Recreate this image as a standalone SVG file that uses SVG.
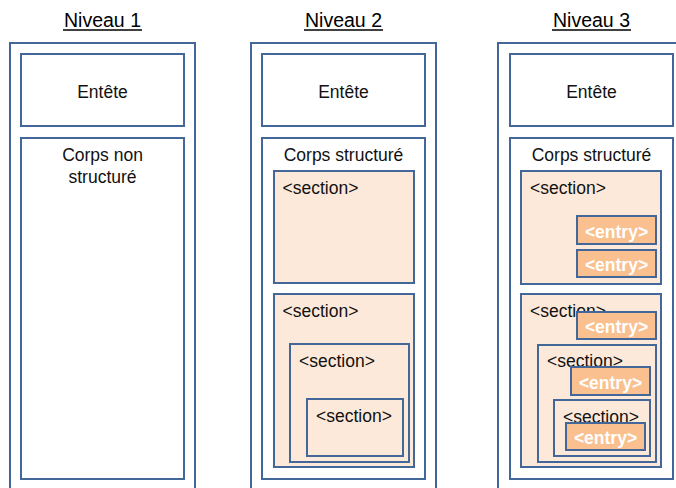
<svg xmlns="http://www.w3.org/2000/svg" width="676" height="488" viewBox="0 0 676 488">
  <style>
    .box { fill: #ffffff; stroke: #44679a; stroke-width: 2; }
    .sec { fill: #fde9da; stroke: #44679a; stroke-width: 2; }
    .ent { fill: #fac08f; stroke: #44679a; stroke-width: 2; }
    .title { font-family: "Liberation Sans", Arial, sans-serif; font-size: 19.5px; fill: #000; text-anchor: middle; }
    .lbl { font-family: "Liberation Sans", Arial, sans-serif; font-size: 17.5px; fill: #111; }
    .mid { text-anchor: middle; }
    .etxt { font-family: "Liberation Sans", Arial, sans-serif; font-size: 17.5px; font-weight: bold; fill: #ffffff; text-anchor: middle; }
    .ul { stroke: #000; stroke-width: 1.3; }
  </style>

  <rect width="676" height="488" fill="#ffffff"/>

  <!-- Column titles -->
  <g id="titles">
    <text class="title" x="102.5" y="27">Niveau 1</text>
    <line class="ul" x1="63" y1="30" x2="142" y2="30"/>
    <text class="title" x="343.5" y="27">Niveau 2</text>
    <line class="ul" x1="304" y1="30" x2="383" y2="30"/>
    <text class="title" x="591.5" y="27">Niveau 3</text>
    <line class="ul" x1="552" y1="30" x2="631" y2="30"/>
  </g>

  <!-- Level 1: unstructured body -->
  <g id="niveau1">
    <rect class="box" x="10" y="43" width="185" height="470"/>
    <g id="n1-entete">
      <rect class="box" x="21" y="54" width="163" height="72"/>
      <text class="lbl mid" x="102.5" y="97.5">Entête</text>
    </g>
    <g id="n1-corps">
      <rect class="box" x="21" y="138" width="163" height="341"/>
      <text class="lbl mid" x="102.5" y="160.5">Corps non</text>
      <text class="lbl mid" x="102.5" y="182.5">structuré</text>
    </g>
  </g>

  <!-- Level 2: structured body with nested sections -->
  <g id="niveau2">
    <rect class="box" x="251" y="43" width="185" height="470"/>
    <g id="n2-entete">
      <rect class="box" x="262" y="54" width="163" height="72"/>
      <text class="lbl mid" x="343.5" y="97.5">Entête</text>
    </g>
    <g id="n2-corps">
      <rect class="box" x="262" y="138" width="163" height="341"/>
      <text class="lbl mid" x="343.5" y="160.5">Corps structuré</text>
    </g>
    <g id="n2-sec1">
      <rect class="sec" x="274" y="171" width="140" height="112"/>
      <text class="lbl" x="282.5" y="194">&lt;section&gt;</text>
    </g>
    <g id="n2-sec2">
      <rect class="sec" x="274" y="294" width="140" height="173"/>
      <text class="lbl" x="282.5" y="317">&lt;section&gt;</text>
    </g>
    <g id="n2-sec2a">
      <rect class="sec" x="290" y="344" width="119" height="118"/>
      <text class="lbl" x="299" y="367">&lt;section&gt;</text>
    </g>
    <g id="n2-sec2b">
      <rect class="sec" x="307" y="399" width="96" height="57"/>
      <text class="lbl" x="316" y="422">&lt;section&gt;</text>
    </g>
  </g>

  <!-- Level 3: sections with entries -->
  <g id="niveau3">
    <rect class="box" x="498" y="43" width="200" height="470"/>
    <g id="n3-entete">
      <rect class="box" x="510" y="54" width="163" height="72"/>
      <text class="lbl mid" x="591.5" y="97.5">Entête</text>
    </g>
    <g id="n3-corps">
      <rect class="box" x="510" y="138" width="163" height="341"/>
      <text class="lbl mid" x="591.5" y="160.5">Corps structuré</text>
    </g>
    <g id="n3-sec1">
      <rect class="sec" x="521" y="171" width="140" height="113"/>
      <text class="lbl" x="530" y="194">&lt;section&gt;</text>
    </g>
    <g id="n3-entry1">
      <rect class="ent" x="577" y="216" width="79" height="28"/>
      <text class="etxt" x="616.5" y="237.5">&lt;entry&gt;</text>
    </g>
    <g id="n3-entry2">
      <rect class="ent" x="577" y="250" width="79" height="27"/>
      <text class="etxt" x="616.5" y="271">&lt;entry&gt;</text>
    </g>
    <g id="n3-sec2">
      <rect class="sec" x="521" y="294" width="140" height="173"/>
      <text class="lbl" x="530" y="317">&lt;section&gt;</text>
    </g>
    <g id="n3-entry3">
      <rect class="ent" x="577" y="312" width="79" height="27"/>
      <text class="etxt" x="616.5" y="333">&lt;entry&gt;</text>
    </g>
    <g id="n3-sec2a">
      <rect class="sec" x="538" y="345" width="118" height="117"/>
      <text class="lbl" x="547" y="367">&lt;section&gt;</text>
    </g>
    <g id="n3-entry4">
      <rect class="ent" x="571" y="367" width="79" height="28"/>
      <text class="etxt" x="610.5" y="388.5">&lt;entry&gt;</text>
    </g>
    <g id="n3-sec2b">
      <rect class="sec" x="554" y="400" width="96" height="56"/>
      <text class="lbl" x="563" y="422.5">&lt;section&gt;</text>
    </g>
    <g id="n3-entry5">
      <rect class="ent" x="566" y="423" width="79" height="27"/>
      <text class="etxt" x="605.5" y="444">&lt;entry&gt;</text>
    </g>
  </g>

  <!-- No connectors in this figure; nesting shows structure -->
  <g id="connectors"/>
</svg>
